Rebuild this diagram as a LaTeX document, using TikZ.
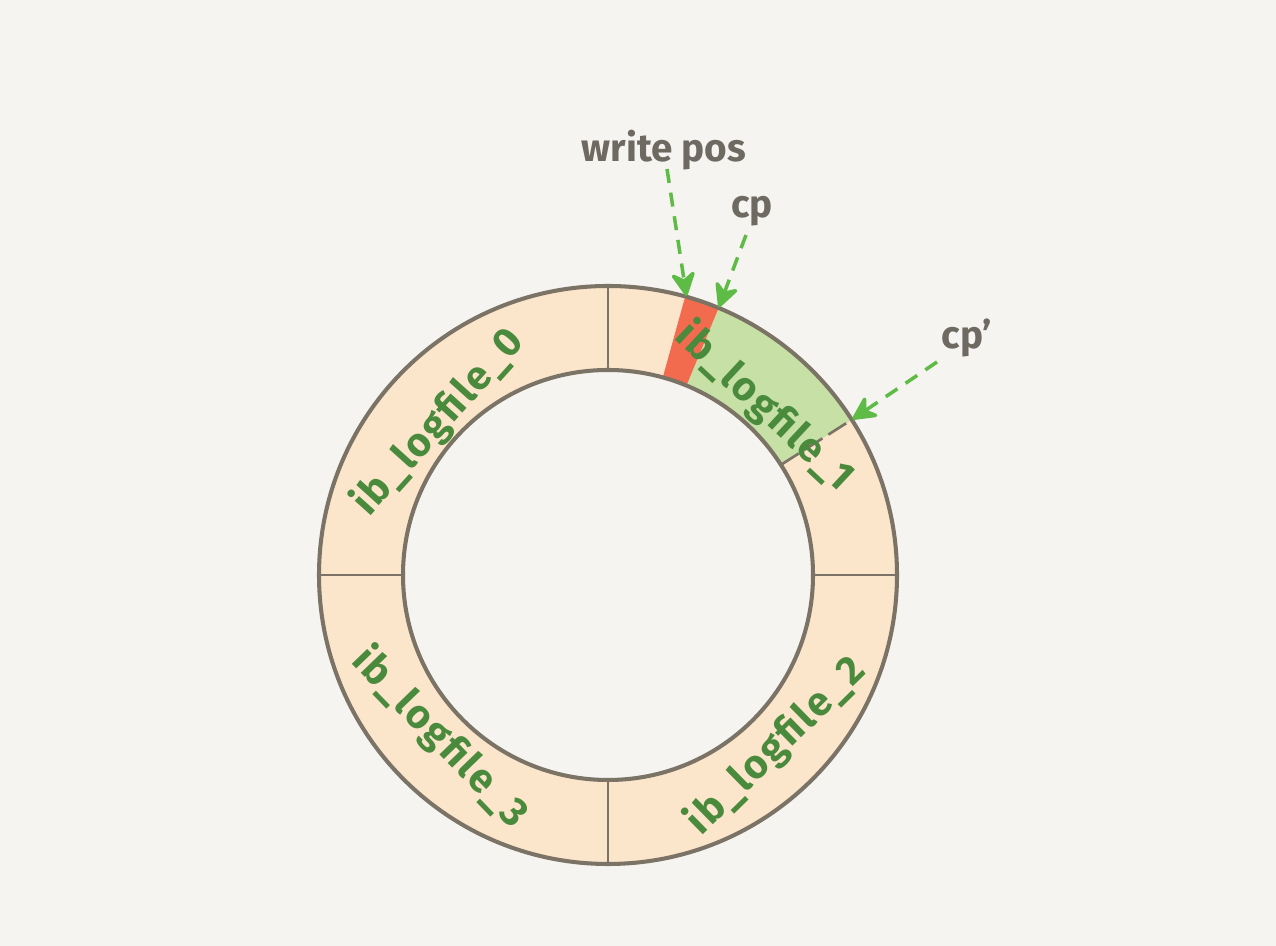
\documentclass[tikz,border=0pt]{standalone}
\usepackage{fontspec}
\setmainfont{Fira Sans}
\newfontfamily\labelfont[LetterSpace=5]{Fira Sans}
\usetikzlibrary{arrows.meta,calc}
\definecolor{bg}{HTML}{F5F4F0}
\definecolor{peach}{HTML}{FBE5CB}
\definecolor{segred}{HTML}{F36B4F}
\definecolor{seggreen}{HTML}{C6E0A5}
\definecolor{ringline}{HTML}{7A7366}
\definecolor{labelgreen}{HTML}{4A8A3C}
\definecolor{labelgrey}{HTML}{6E6A62}
\definecolor{arrowgreen}{HTML}{5DBB46}
\tikzset{
  ringedge/.style={draw=ringline,line width=1.15pt},
  divider/.style={draw=ringline,line width=0.75pt},
  filelabel/.style={text=labelgreen,font=\labelfont\bfseries\fontsize{11.5}{14}\selectfont,inner sep=0pt},
  pointer/.style={text=labelgrey,font=\bfseries\fontsize{11}{14}\selectfont,inner sep=1pt},
  ptrarrow/.style={draw=arrowgreen,line width=1pt,dash pattern=on 4pt off 2.8pt,
    -{Stealth[round,length=8pt,width=8pt,fill=arrowgreen]}}
}
\begin{document}
\begin{tikzpicture}[x=0.01cm,y=0.01cm]
\fill[bg] (0,0) rectangle (1276,946);
\useasboundingbox (0,0) rectangle (1276,946);
\coordinate (O) at (608,371);
% ring fill
\fill[peach,even odd rule] (O) circle (289) (O) circle (205);
% green segment (cp to cp')
\fill[seggreen] ($(O)+(32.5:289)$) arc[start angle=32.5,end angle=67.5,radius=289]
  -- ($(O)+(67.5:205)$) arc[start angle=67.5,end angle=32.5,radius=205] -- cycle;
% red segment (write pos to cp)
\fill[segred] ($(O)+(67.5:289)$) arc[start angle=67.5,end angle=74.5,radius=289]
  -- ($(O)+(74.5:205)$) arc[start angle=74.5,end angle=67.5,radius=205] -- cycle;
% dividers
\foreach \a in {0,90,180,270}
  \draw[divider] ($(O)+(\a:205)$) -- ($(O)+(\a:289)$);
\draw[divider,dash pattern=on 6pt off 2pt] ($(O)+(32.5:205)$) -- ($(O)+(32.5:289)$);
% ring outlines
\draw[ringedge] (O) circle (289);
\draw[ringedge] (O) circle (205);
% file labels
\node[filelabel,rotate=48] (f0) at ($(O)+(138:228)$) {ib\_logfile\_0};
\node[filelabel,rotate=-43] (f1) at ($(O)+(47:230)$) {ib\_logfile\_1};
\node[filelabel,rotate=44.5] (f2) at ($(O)+(-45.5:240)$) {ib\_logfile\_2};
\node[filelabel,rotate=-46] (f3) at ($(O)+(224:234)$) {ib\_logfile\_3};
% pointer labels
\node[pointer] (wp) at (664,796) {write pos};
\node[pointer] (cp) at (752,735) {cp};
\node[pointer] (cpp) at (967,608) {cp'};
% pointer anchors
\coordinate (wpS) at (667,777);
\coordinate (wpT) at ($(O)+(74.3:290)$);
\coordinate (cpS) at (746,711);
\coordinate (cpT) at ($(O)+(67.5:290)$);
\coordinate (cppS) at (937,584);
\coordinate (cppT) at ($(O)+(32.5:290)$);
\draw[ptrarrow] (wpS) -- (wpT);
\draw[ptrarrow] (cpS) -- (cpT);
\draw[ptrarrow] (cppS) -- (cppT);
\end{tikzpicture}
\end{document}
